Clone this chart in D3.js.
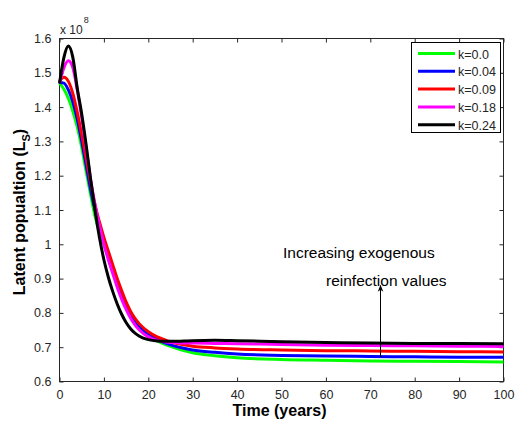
<!DOCTYPE html>
<html>
<head>
<script src="https://d3js.org/d3.v7.min.js"></script>
<style>
	body { margin: 0; background: #fff; }
	svg { display: block; background: #fff; }
	.tick text { font-family: "Liberation Sans", Arial, sans-serif; font-size: 12.5px; fill: #262626; }
	.tick line { stroke: #262626; }
	.lbl { font-family: "Liberation Sans", Arial, sans-serif; fill: #000; }
</style>
</head>
<body>
<svg id="chart" width="524" height="423"></svg>
<script>
// time points (years)
var years = [0,1,2,3,4,5,6,7,8,9,10,11,12,13,14,15,16,17,18,20,22,24,26,28,30,35,40,50,60,70,80,90,100];

// latent population, x 10^8, one array per reinfection value k
var k000 = [1.470,1.452,1.425,1.388,1.342,1.282,1.212,1.145,1.082,1.035,1.000,0.960,0.920,0.885,0.850,0.818,0.790,0.770,0.755,0.733,0.718,0.707,0.698,0.690,0.684,0.675,0.669,0.664,0.662,0.660,0.659,0.658,0.657];
var k004 = [1.472,1.470,1.450,1.415,1.365,1.300,1.230,1.160,1.100,1.050,1.010,0.970,0.930,0.893,0.858,0.825,0.798,0.777,0.762,0.738,0.722,0.711,0.703,0.697,0.692,0.685,0.680,0.676,0.674,0.673,0.672,0.671,0.671];
var k009 = [1.475,1.487,1.475,1.440,1.385,1.320,1.250,1.180,1.115,1.065,1.020,0.980,0.940,0.900,0.865,0.832,0.805,0.784,0.768,0.745,0.730,0.720,0.712,0.707,0.703,0.698,0.695,0.692,0.690,0.689,0.688,0.687,0.686];
var k018 = [1.470,1.515,1.535,1.515,1.450,1.370,1.280,1.190,1.115,1.055,1.000,0.955,0.915,0.875,0.840,0.810,0.785,0.765,0.750,0.730,0.720,0.715,0.713,0.712,0.712,0.711,0.710,0.708,0.706,0.705,0.704,0.703,0.702];
var k024 = [1.469,1.545,1.578,1.545,1.455,1.380,1.290,1.190,1.100,1.020,0.955,0.904,0.862,0.826,0.796,0.772,0.754,0.741,0.732,0.722,0.718,0.717,0.717,0.718,0.719,0.720,0.719,0.716,0.714,0.712,0.711,0.711,0.710];

var seriesNames = ["k=0.0", "k=0.04", "k=0.09", "k=0.18", "k=0.24"];
var seriesValues = [k000, k004, k009, k018, k024];
var seriesColors = ["#00ff00", "#0000ff", "#ff0000", "#ff00ff", "#000000"];

var xTicks = [0,10,20,30,40,50,60,70,80,90,100];
var yTicks = [0.6,0.7,0.8,0.9,1.0,1.1,1.2,1.3,1.4,1.5,1.6];
var yTickLabels = ["0.6","0.7","0.8","0.9","1","1.1","1.2","1.3","1.4","1.5","1.6"];

// annotation arrow: x position and start/end values
var arrowX = 72.3, arrowFrom = 0.672, arrowTo = 0.88;

var svg = d3.select("#chart");
var pLeft = 59.5, pRight = 503.5, pTop = 38.5, pBottom = 381.5;

var x = d3.scaleLinear().domain([0, 100]).range([pLeft, pRight]);
var y = d3.scaleLinear().domain([0.6, 1.6]).range([pBottom, pTop]);

// axes, ticks drawn inward like matlab
svg.append("g")
	.attr("transform", "translate(0," + pBottom + ")")
	.call(d3.axisBottom(x).tickValues(xTicks).tickSizeInner(-4).tickSizeOuter(0).tickPadding(9))
	.call(function(g) { g.select(".domain").remove(); });
svg.append("g")
	.attr("transform", "translate(0," + pTop + ")")
	.call(d3.axisTop(x).tickValues(xTicks).tickSizeInner(-4).tickSizeOuter(0).tickFormat(""))
	.call(function(g) { g.select(".domain").remove(); });
svg.append("g")
	.attr("transform", "translate(" + pLeft + ",0)")
	.call(d3.axisLeft(y).tickValues(yTicks).tickSizeInner(-4).tickSizeOuter(0).tickPadding(8)
		.tickFormat(function(d, i) { return yTickLabels[i]; }))
	.call(function(g) { g.select(".domain").remove(); });
svg.append("g")
	.attr("transform", "translate(" + pRight + ",0)")
	.call(d3.axisRight(y).tickValues(yTicks).tickSizeInner(-4).tickSizeOuter(0).tickFormat(""))
	.call(function(g) { g.select(".domain").remove(); });

svg.append("rect")
	.attr("x", pLeft).attr("y", pTop)
	.attr("width", pRight - pLeft).attr("height", pBottom - pTop)
	.attr("fill", "none").attr("stroke", "#262626").attr("stroke-width", 1);

// curves
var line = d3.line()
	.x(function(d, i) { return x(years[i]); })
	.y(function(d) { return y(d); })
	.curve(d3.curveMonotoneX);

svg.append("g").selectAll("path")
	.data(seriesValues)
	.enter().append("path")
	.attr("d", line)
	.attr("fill", "none")
	.attr("stroke", function(d, i) { return seriesColors[i]; })
	.attr("stroke-width", 3);

// exponent label
var ex = svg.append("text").attr("class", "lbl")
	.attr("x", 60).attr("y", 34)
	.style("font-size", "12px").style("fill", "#262626");
ex.append("tspan").text("x 10");
ex.append("tspan").attr("dy", -11).attr("dx", 1).style("font-size", "9px").text("8");

// axis titles
svg.append("text").attr("class", "lbl")
	.attr("x", (pLeft + pRight) / 2 - 2).attr("y", 416)
	.attr("text-anchor", "middle")
	.style("font-size", "16px").style("font-weight", "bold")
	.text("Time (years)");

var yl = svg.append("text").attr("class", "lbl")
	.attr("transform", "translate(25," + 212 + ") rotate(-90)")
	.attr("text-anchor", "middle")
	.style("font-size", "16px").style("font-weight", "bold");
yl.append("tspan").text("Latent popualtion (L");
yl.append("tspan").attr("dy", 5).style("font-size", "11px").text("S");
yl.append("tspan").attr("dy", -5).text(")");

// annotation
svg.append("text").attr("class", "lbl")
	.attr("x", 283).attr("y", 258)
	.style("font-size", "15.5px")
	.text("Increasing exogenous");
svg.append("text").attr("class", "lbl")
	.attr("x", 326).attr("y", 286)
	.style("font-size", "15.5px")
	.text("reinfection values");

svg.append("defs").append("marker")
	.attr("id", "arr").attr("viewBox", "0 0 10 10")
	.attr("refX", 9).attr("refY", 5)
	.attr("markerWidth", 7).attr("markerHeight", 9)
	.attr("orient", "auto")
	.append("path").attr("d", "M0,1 L10,5 L0,9 L3,5 Z").attr("fill", "#000");

svg.append("line")
	.attr("x1", x(arrowX)).attr("x2", x(arrowX))
	.attr("y1", y(arrowFrom)).attr("y2", y(arrowTo))
	.attr("stroke", "#000").attr("stroke-width", 1)
	.attr("marker-end", "url(#arr)");

// legend
var lg = svg.append("g");
lg.append("rect")
	.attr("x", 411.5).attr("y", 42.5).attr("width", 89).attr("height", 90)
	.attr("fill", "#fff").attr("stroke", "#000").attr("stroke-width", 1);

var rows = lg.selectAll(".row")
	.data(seriesNames)
	.enter().append("g")
	.attr("transform", function(d, i) { return "translate(0," + (53.5 + i * 17.8) + ")"; });
rows.append("line")
	.attr("x1", 418).attr("x2", 455)
	.attr("stroke", function(d, i) { return seriesColors[i]; })
	.attr("stroke-width", 3);
rows.append("text").attr("class", "lbl")
	.attr("x", 458).attr("y", 5)
	.style("font-size", "12.5px").style("fill", "#262626")
	.text(function(d) { return d; });
</script>
</body>
</html>
